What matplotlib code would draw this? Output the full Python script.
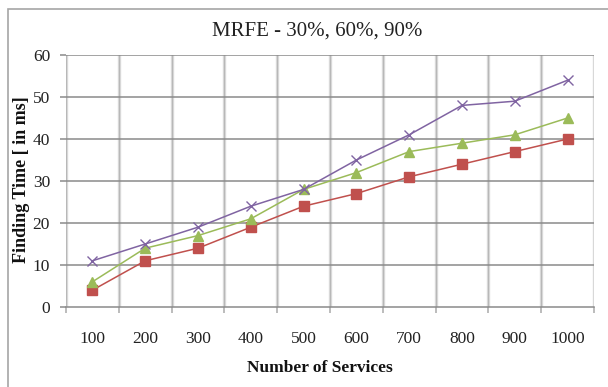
import matplotlib.pyplot as plt
from matplotlib.patches import Rectangle

# Datos: tiempo de búsqueda (ms) según número de servicios
servicios = [100, 200, 300, 400, 500, 600, 700, 800, 900, 1000]
mrfe_30 = [4, 11, 14, 19, 24, 27, 31, 34, 37, 40]
mrfe_60 = [6, 14, 17, 21, 28, 32, 37, 39, 41, 45]
mrfe_90 = [11, 15, 19, 24, 28, 35, 41, 48, 49, 54]

plt.rcParams["font.family"] = ["Liberation Serif", "DejaVu Serif"]

fig = plt.figure(figsize=(6.08, 3.87), dpi=100)
ax = fig.add_axes([66 / 608, 1 - 307 / 387, 528 / 608, 252 / 387])

# marco gris del gráfico (sale por la derecha y por abajo)
fig.patches.append(Rectangle((8 / 608, -0.1), 1.2, 1 - 9 / 387 + 0.1,
                             transform=fig.transFigure, fill=False,
                             edgecolor="#a6a6a6", linewidth=1.2, zorder=0))

pos = list(range(1, len(servicios) + 1))

# rejilla vertical en los límites de cada categoría
for b in range(len(servicios) + 1):
    ax.axvline(b + 0.5, color="#dadada", linewidth=2.4, zorder=1)
    ax.axvline(b + 0.5, color="#b8b8b8", linewidth=0.8, zorder=1)

# rejilla horizontal
for v in range(10, 61, 10):
    ax.axhline(v, color="#8a8a8a", linewidth=1.1, zorder=1)

ax.plot(pos, mrfe_30, color="#C0504D", marker="s", markersize=6.5,
        linewidth=1.1, zorder=3)
ax.plot(pos, mrfe_60, color="#9BBB59", marker="^", markersize=6.5,
        linewidth=1.1, zorder=3)
ax.plot(pos, mrfe_90, color="#8064A2", marker="x", markersize=7,
        markeredgewidth=1.0, linewidth=1.1, zorder=3)

ax.set_xlim(0.5, len(servicios) + 0.5)
ax.set_ylim(0, 60)

for s in ["top", "right", "left"]:
    ax.spines[s].set_visible(False)
ax.spines["bottom"].set_color("#8a8a8a")
ax.spines["bottom"].set_linewidth(1.1)

ax.set_xticks(pos)
ax.set_xticklabels([str(s) for s in servicios], fontsize=12.5, color="#222222")
ax.set_xticks([b + 0.5 for b in range(len(servicios) + 1)], minor=True)
ax.tick_params(axis="x", which="major", length=0, pad=17)
ax.tick_params(axis="x", which="minor", length=4.5, width=1.2, color="#b0b0b0",
               direction="out")

ax.set_yticks(range(0, 61, 10))
ax.tick_params(axis="y", length=4.5, width=1.1, color="#8a8a8a", pad=7,
               labelsize=12.5, labelcolor="#222222")

fig.text(317 / 608, 1 - 31 / 387, "MRFE - 30%, 60%, 90%", fontsize=15,
         ha="center", va="center", color="#222222")
fig.text(320 / 608, 1 - 368 / 387, "Number of Services", fontsize=12.5,
         fontweight="bold", ha="center", va="center", color="#111111")
fig.text(22 / 608, 1 - 180 / 387, "Finding Time [ in ms]", fontsize=13,
         fontweight="bold", rotation=90, ha="center", va="center",
         color="#111111")

fig.savefig("out.png", dpi=100)
